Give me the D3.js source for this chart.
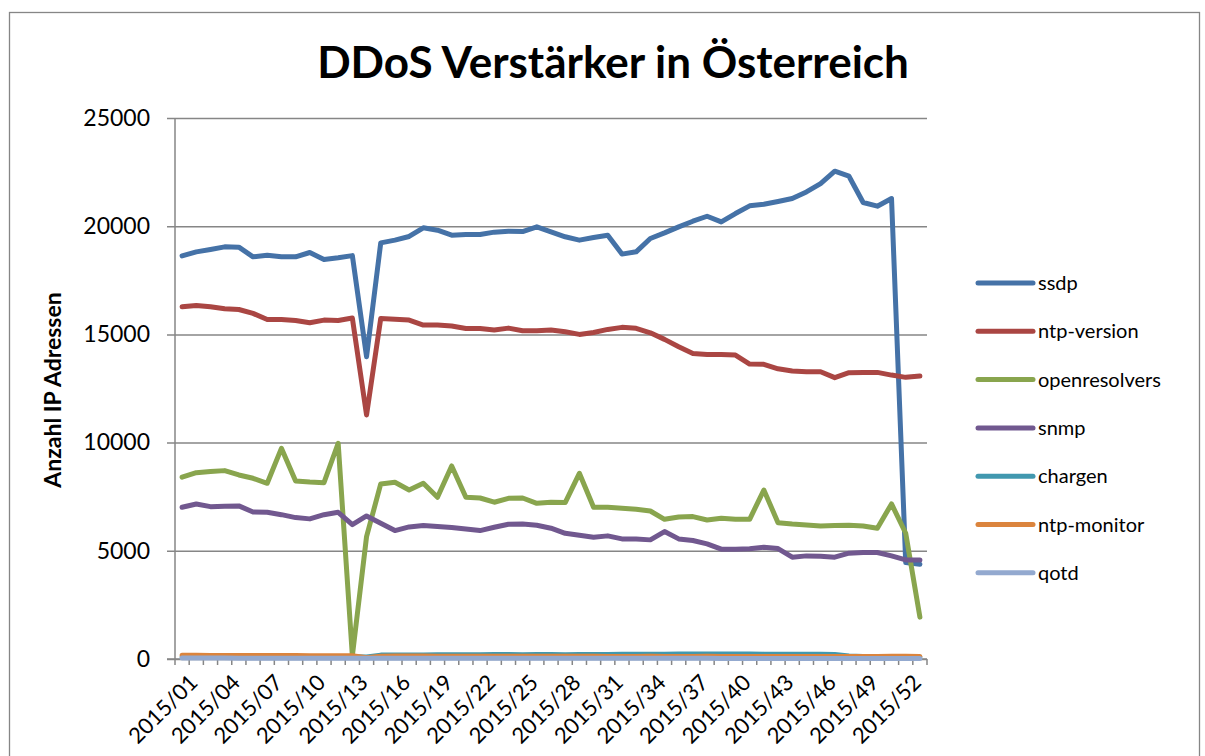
<!DOCTYPE html>
<html>
<head>
<meta charset="utf-8">
<script src="https://cdn.jsdelivr.net/npm/d3@7"></script>
<style>
  body { margin: 0; background: #fff; }
  svg { font-family: Lato, "Open Sans", sans-serif; }
</style>
</head>
<body>
<div id="chart"></div>
<script>
// weeks 2015/01 .. 2015/53
var weeks = [];
for (var w = 1; w <= 53; w++) weeks.push("2015/" + (w < 10 ? "0" + w : "" + w));

var seriesNames = ["ssdp", "ntp-version", "openresolvers", "snmp", "chargen", "ntp-monitor", "qotd"];
var seriesColors = ["#4572A7", "#AA4643", "#89A54E", "#71588F", "#4198AF", "#DB843D", "#93A9CF"];

var ssdp = [18630,18815,18925,19045,19030,18585,18660,18585,18585,18785,18460,18540,18640,
  13970,19230,19355,19525,19925,19815,19585,19615,19615,19725,19770,19755,19970,
  19740,19510,19355,19480,19585,18710,18815,19430,19690,19970,20230,20460,20200,
  20585,20940,21015,21140,21280,21585,21970,22540,22310,21095,20925,21280,4455,4380];
var ntpVersion = [16275,16340,16275,16185,16150,15970,15690,15690,15645,15535,15660,15645,15755,
  11275,15740,15705,15660,15430,15430,15385,15275,15275,15200,15290,15165,15165,
  15200,15120,15000,15090,15230,15325,15280,15075,14770,14430,14120,14075,14075,
  14045,13630,13615,13410,13305,13275,13275,13000,13230,13245,13245,13120,13015,13075];
var openresolvers = [8400,8610,8660,8705,8505,8350,8120,9735,8230,8180,8150,9970,150,
  5655,8090,8165,7810,8120,7475,8920,7475,7440,7245,7425,7440,7195,
  7245,7230,8580,7010,7010,6965,6920,6840,6455,6565,6580,6425,6505,
  6455,6455,7810,6300,6240,6195,6150,6165,6180,6150,6045,7165,5810,1935];
var snmp = [7010,7165,7040,7060,7075,6795,6780,6670,6535,6475,6670,6780,6210,
  6610,6275,5935,6105,6165,6120,6075,6010,5935,6090,6230,6240,6180,
  6045,5810,5720,5630,5690,5550,5550,5505,5890,5550,5475,5320,5075,
  5075,5090,5165,5105,4705,4765,4750,4705,4890,4920,4920,4765,4580,4580];
var chargen = [90,95,95,100,100,100,105,100,100,95,95,100,100,
  95,180,185,190,190,195,195,200,200,205,205,200,205,
  205,200,205,210,210,215,215,220,225,230,235,235,230,
  230,230,225,225,225,220,215,210,140,120,110,100,95,90];
var ntpMonitor = [170,170,165,165,160,160,165,160,160,155,155,150,150,
  60,130,135,135,135,130,130,130,130,125,125,130,130,
  125,125,125,125,120,120,120,125,120,120,120,125,120,
  120,120,120,115,115,115,115,115,120,120,120,125,125,120];
var qotd = [45,45,42,42,40,40,40,38,38,38,36,36,36,
  30,34,34,34,33,33,33,33,32,32,32,32,31,
  31,31,30,30,30,30,30,30,29,29,29,29,28,
  28,28,28,28,27,27,27,27,26,26,26,25,25,25];

var seriesValues = [ssdp, ntpVersion, openresolvers, snmp, chargen, ntpMonitor, qotd];
var yTicks = [0, 5000, 10000, 15000, 20000, 25000];

var width = 1205, height = 756;
var plotLeft = 175, plotRight = 927, plotTop = 118, plotBottom = 659;

var svg = d3.select("#chart").append("svg")
  .attr("width", width)
  .attr("height", height);

// chart frame
svg.append("rect")
  .attr("x", 9.5).attr("y", 12.5)
  .attr("width", 1190).attr("height", 800)
  .attr("fill", "none")
  .attr("stroke", "#868686")
  .attr("stroke-width", 1.3);

var x = d3.scaleBand()
  .domain(weeks)
  .range([plotLeft, plotRight])
  .padding(0);

var y = d3.scaleLinear()
  .domain([0, 25000])
  .range([plotBottom, plotTop]);

// gridlines + y labels
var yAxis = d3.axisLeft(y)
  .tickValues(yTicks)
  .tickSize(-(plotRight - plotLeft))
  .tickPadding(25)
  .tickFormat(d3.format("d"));

var gy = svg.append("g")
  .attr("transform", "translate(" + plotLeft + ",0)")
  .call(yAxis);
gy.select(".domain").remove();
gy.selectAll(".tick line")
  .attr("x1", -8)
  .attr("stroke", "#868686")
  .attr("stroke-width", 1.5);
gy.selectAll(".tick text")
  .attr("fill", "#000")
  .style("font-size", "23px")
  .style("font-family", "Lato, sans-serif");

// y axis line
svg.append("line")
  .attr("x1", plotLeft).attr("x2", plotLeft)
  .attr("y1", plotTop).attr("y2", plotBottom)
  .attr("stroke", "#868686").attr("stroke-width", 1.5);

// x axis line + ticks at category boundaries
svg.append("line")
  .attr("x1", plotLeft - 8).attr("x2", plotRight)
  .attr("y1", plotBottom).attr("y2", plotBottom)
  .attr("stroke", "#868686").attr("stroke-width", 1.5);

var boundaries = weeks.map(function(d) { return x(d); }).concat([plotRight]);
svg.append("g").selectAll("line")
  .data(boundaries)
  .enter().append("line")
  .attr("x1", function(d) { return d; })
  .attr("x2", function(d) { return d; })
  .attr("y1", plotBottom)
  .attr("y2", plotBottom + 6)
  .attr("stroke", "#868686")
  .attr("stroke-width", 1.5);

// x labels, every 3rd week
var labelWeeks = weeks.filter(function(d, i) { return i % 3 === 0; });
svg.append("g").selectAll("text")
  .data(labelWeeks)
  .enter().append("text")
  .attr("transform", function(d) {
    return "translate(" + (x(d) + x.bandwidth() / 2 + 6) + "," + (plotBottom + 14) + ") rotate(-45)";
  })
  .attr("text-anchor", "end")
  .attr("dy", "0.7em")
  .style("font-size", "22px")
  .text(function(d) { return d; });

// series lines
var line = d3.line()
  .x(function(d, i) { return x(weeks[i]) + x.bandwidth() / 2; })
  .y(function(d) { return y(d); });

svg.append("g").selectAll("path")
  .data(seriesValues)
  .enter().append("path")
  .attr("d", line)
  .attr("fill", "none")
  .attr("stroke", function(d, i) { return seriesColors[i]; })
  .attr("stroke-width", 5)
  .attr("stroke-linejoin", "round")
  .attr("stroke-linecap", "round");

// legend
var legend = svg.append("g").selectAll("g")
  .data(seriesNames)
  .enter().append("g")
  .attr("transform", function(d, i) { return "translate(978," + (283 + i * 48.3) + ")"; });

legend.append("line")
  .attr("x1", 0).attr("x2", 55)
  .attr("stroke", function(d, i) { return seriesColors[i]; })
  .attr("stroke-width", 5)
  .attr("stroke-linecap", "round");

legend.append("text")
  .attr("x", 60)
  .attr("dy", "0.35em")
  .style("font-size", "20px")
  .text(function(d) { return d; });

// title
svg.append("text")
  .attr("x", 613)
  .attr("y", 78)
  .attr("text-anchor", "middle")
  .style("font-size", "44px")
  .style("font-weight", "bold")
  .text("DDoS Verstärker in Österreich");

// y axis title
svg.append("text")
  .attr("transform", "translate(61,390) rotate(-90)")
  .attr("text-anchor", "middle")
  .style("font-size", "23px")
  .style("font-weight", "bold")
  .text("Anzahl IP Adressen");
</script>
</body>
</html>
